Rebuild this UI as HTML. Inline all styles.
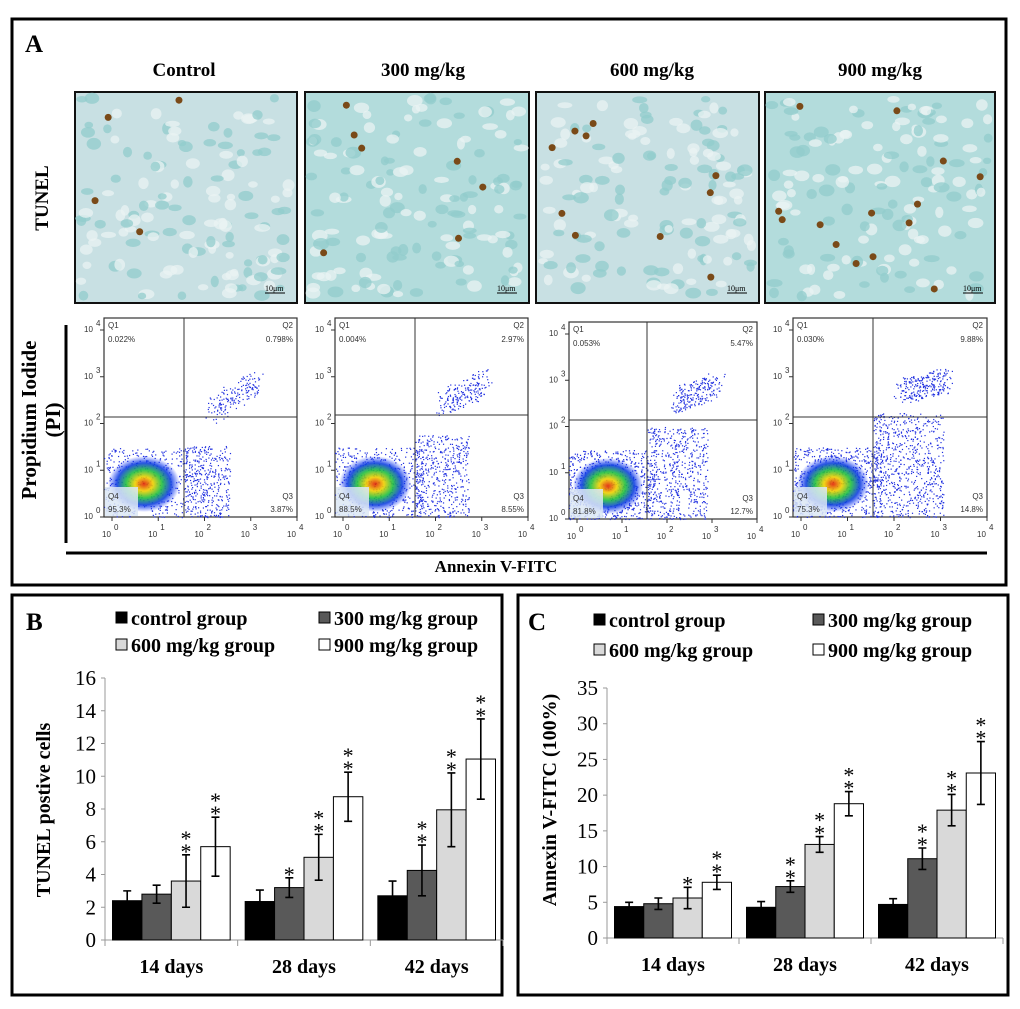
<!DOCTYPE html>
<html><head><meta charset="utf-8"><style>
body{margin:0;background:#fff;width:1020px;height:1009px;overflow:hidden;font-family:"Liberation Serif",serif}
svg{position:absolute;left:0;top:0}
</style></head><body>
<svg id="s" width="1020" height="1009" font-family="Liberation Serif, serif">
<rect x="12" y="19" width="994" height="566" fill="none" stroke="#000" stroke-width="3"/>
<text x="25" y="52" font-size="25" font-weight="bold">A</text>
<text x="184" y="76" font-size="19" font-weight="bold" text-anchor="middle">Control</text>
<text x="423" y="76" font-size="19" font-weight="bold" text-anchor="middle">300 mg/kg</text>
<text x="652" y="76" font-size="19" font-weight="bold" text-anchor="middle">600 mg/kg</text>
<text x="880" y="76" font-size="19" font-weight="bold" text-anchor="middle">900 mg/kg</text>
<text transform="translate(48,198) rotate(-90)" font-size="19" font-weight="bold" text-anchor="middle">TUNEL</text>
<text transform="translate(36,420) rotate(-90)" font-size="21" font-weight="bold" text-anchor="middle">Propidium Iodide</text>
<text transform="translate(60,420) rotate(-90)" font-size="21" font-weight="bold" text-anchor="middle">(PI)</text>
<line x1="66" y1="325" x2="66" y2="543" stroke="#000" stroke-width="3"/>
<line x1="66" y1="553" x2="987" y2="553" stroke="#000" stroke-width="3"/>
<text x="496" y="572" font-size="17" font-weight="bold" text-anchor="middle">Annexin V-FITC</text>
<g id="tissue"></g><g id="flow"></g>
<rect x="12" y="595" width="490" height="400" fill="none" stroke="#000" stroke-width="3"/>
<rect x="518" y="595" width="490" height="400" fill="none" stroke="#000" stroke-width="3"/>
<text x="26" y="630" font-size="25" font-weight="bold">B</text>
<text x="528" y="630" font-size="25" font-weight="bold">C</text>
<g id="chartB"></g><g id="chartC"></g>
</svg>
<script>
const NS="http://www.w3.org/2000/svg";
function mk(p,t,a){const e=document.createElementNS(NS,t);for(const k in a)e.setAttribute(k,a[k]);p.appendChild(e);return e;}
// ---- data ----
const categories=["14 days","28 days","42 days"];
const groups=["control group","300 mg/kg group","600 mg/kg group","900 mg/kg group"];
const tunelControl=[2.4,2.35,2.7], tunelControlErr=[0.6,0.7,0.9];
const tunel300=[2.8,3.2,4.25], tunel300Err=[0.55,0.6,1.55];
const tunel600=[3.6,5.05,7.95], tunel600Err=[1.6,1.4,2.25];
const tunel900=[5.7,8.75,11.05], tunel900Err=[1.8,1.5,2.45];
const tunelStars=[["","","**","**"],["","*","**","**"],["","**","**","**"]];
const tunelTicks=[0,2,4,6,8,10,12,14,16];
const annexControl=[4.4,4.3,4.7], annexControlErr=[0.6,0.8,0.8];
const annex300=[4.8,7.2,11.1], annex300Err=[0.8,0.8,1.5];
const annex600=[5.6,13.1,17.9], annex600Err=[1.5,1.1,2.2];
const annex900=[7.8,18.8,23.1], annex900Err=[1.0,1.7,4.4];
const annexStars=[["","","*","**"],["","**","**","**"],["","**","**","**"]];
const annexTicks=[0,5,10,15,20,25,30,35];
const fills=["#000","#595959","#d9d9d9","#fff"];

function barChart(g,cfg){
  const {x0,x1,y0,y1,max,series,errs,stars,ticks,title,tx,ty,legend}=cfg;
  const Y=v=>y0-(v/max)*(y0-y1);
  const cw=(x1-x0)/categories.length, pad=7.5, bw=(cw-2*pad)/4;
  const ax=mk(g,'line',{x1:x0,y1:y1,x2:x0,y2:y0,stroke:'#999'});
  
  const bx=mk(g,'line',{x1:x0,y1:y0,x2:x1,y2:y0,stroke:'#999'});
  
  ticks.forEach(t=>{
    mk(g,'line',{x1:x0-4,x2:x0,y1:Y(t),y2:Y(t),stroke:'#999'});
    const l=mk(g,'text',{x:x0-9,y:Y(t)+7,'font-size':21,'text-anchor':'end'});l.textContent=t;
    
  });
  for(let c=0;c<=categories.length;c++) mk(g,'line',{x1:x0+c*cw,x2:x0+c*cw,y1:y0,y2:y0+6,stroke:'#999'});
  categories.forEach((cat,c)=>{
    const l=mk(g,'text',{x:x0+c*cw+cw/2,y:y0+33,'font-size':20,'font-weight':'bold','text-anchor':'middle'});l.textContent=cat;
    
    series.forEach((s,i)=>{
      const bxp=x0+c*cw+pad+i*bw, v=s[c], e=errs[i][c];
      const r=mk(g,'rect',{x:bxp,y:Y(v),width:bw,height:y0-Y(v),fill:fills[i],stroke:'#000','stroke-width':1});
      
      const cx=bxp+bw/2;
      const eb=mk(g,'path',{d:`M${cx},${Y(v+e)}V${Y(v-e)}M${cx-4},${Y(v+e)}H${cx+4}M${cx-4},${Y(v-e)}H${cx+4}`,stroke:'#000','stroke-width':1.6,fill:'none'});
      
      const st=stars[c][i];
      for(let k=0;k<st.length;k++){
        const t=mk(g,'text',{x:cx,y:Y(v+e)-6-(st.length-1-k)*13+10,'font-size':22,'text-anchor':'middle'});t.textContent='*';
        
      }
    });
  });
  const tl=mk(g,'text',{transform:`translate(${tx},${ty}) rotate(-90)`,'font-size':20,'font-weight':'bold','text-anchor':'middle'});tl.textContent=title;
  
  groups.forEach((n,i)=>{
    const lx=legend[i%2], ly=legend[2+Math.floor(i/2)];
    const sq=mk(g,'rect',{x:lx,y:ly-13,width:11,height:11,fill:fills[i],stroke:'#000'});
    
    const t=mk(g,'text',{x:lx+15,y:ly,'font-size':20,'font-weight':'bold'});t.textContent=n;
    
  });
}
barChart(document.getElementById('chartB'),{x0:105,x1:503,y0:940,y1:678,max:16,
  series:[tunelControl,tunel300,tunel600,tunel900],errs:[tunelControlErr,tunel300Err,tunel600Err,tunel900Err],
  stars:tunelStars,ticks:tunelTicks,title:'TUNEL postive cells',tx:50,ty:810,legend:[116,319,625,652]});
barChart(document.getElementById('chartC'),{x0:607,x1:1003,y0:938,y1:688,max:35,
  series:[annexControl,annex300,annex600,annex900],errs:[annexControlErr,annex300Err,annex600Err,annex900Err],
  stars:annexStars,ticks:annexTicks,title:'Annexin V-FITC (100%)',tx:556,ty:800,legend:[594,813,627,657]});

// ---- decorative tissue images & flow plots ----
let seed=7;function rnd(){seed=(seed*16807)%2147483647;return seed/2147483647;}
const tg=document.getElementById('tissue');
const tiss=[[75,92,222,211,4],[305,92,224,211,7],[536,92,223,211,10],[765,92,230,211,14]];
tiss.forEach((t,j)=>{
  const [x,y,w,h,nd]=t;
  const r=mk(tg,'rect',{x:x,y:y,width:w,height:h,fill:j==1||j==3?'#b3dcdc':'#c8e0e3',stroke:'#111','stroke-width':2});
  
  for(let k=0;k<140;k++) mk(tg,'ellipse',{cx:x+6+rnd()*(w-12),cy:y+6+rnd()*(h-12),rx:4+rnd()*4,ry:3+rnd()*3,fill:rnd()<0.5?'#92cccc':'#eaf3f3',opacity:0.75});
  for(let k=0;k<nd;k++) mk(tg,'circle',{cx:x+8+rnd()*(w-16),cy:y+8+rnd()*(h-16),r:3.5,fill:'#7a4a18'});
  const sb=mk(tg,'text',{x:x+w-32,y:y+h-12,'font-size':8});sb.textContent='10μm';
  mk(tg,'line',{x1:x+w-32,x2:x+w-12,y1:y+h-10,y2:y+h-10,stroke:'#000'});
});
const fg=document.getElementById('flow');
const flows=[[104,318,193,199,80,99,['0.022%','0.798%','3.87%','95.3%'],0.3],[335,318,193,199,80,97,['0.004%','2.97%','8.55%','88.5%'],0.5],
 [569,322,188,197,78,98,['0.053%','5.47%','12.7%','81.8%'],0.7],[793,318,194,199,80,99,['0.030%','9.88%','14.8%','75.3%'],0.9]];
const defs=mk(fg,'defs',{});
const rg=mk(defs,'radialGradient',{id:'heat'});
[['0','#e02000'],['0.25','#f0d000'],['0.5','#20c040'],['0.75','#1040e0'],['1','#1030ff']].forEach(s=>mk(rg,'stop',{offset:s[0],'stop-color':s[1],'stop-opacity':s[0]=='1'?0:1}));
flows.forEach((f,j)=>{
  const [x,y,w,h,qx,qy,lab,lv]=f;
  const r=mk(fg,'rect',{x:x,y:y,width:w,height:h,fill:'#fff',stroke:'#333','stroke-width':1.2});
  
  for(let k=0;k<600+lv*1200;k++){
    let px,py;
    const q=rnd();
    if(q<0.45){px=x+rnd()*qx*1.1;py=y+h-rnd()*h*0.35;}
    else if(q<0.85){px=x+qx+rnd()*w*0.35*(0.5+lv*0.6);py=y+h-rnd()*h*0.55*(0.5+lv*0.5);}
    else{const u=rnd();px=x+qx+20+u*45+rnd()*15;py=y+h*0.25+(1-u)*35*(1.2-lv)+rnd()*25;}
    if(px<x+w-2&&py>y+2&&py<y+h) mk(fg,'rect',{x:px,y:py,width:1.2,height:1.2,fill:'#2030e0'});
  }
  mk(fg,'ellipse',{cx:x+qx*0.5,cy:y+h-33,rx:qx*0.45,ry:28,fill:'url(#heat)',opacity:0.9});
  mk(fg,'rect',{x:x+1,y:y+h-30,width:33,height:29,fill:'#dce8f5',opacity:0.85});
  mk(fg,'line',{x1:x+qx,x2:x+qx,y1:y,y2:y+h,stroke:'#333'});
  mk(fg,'line',{x1:x,x2:x+w,y1:y+qy,y2:y+qy,stroke:'#333'});
  const L=(tx,ty,s,a)=>{const t=mk(fg,'text',{x:tx,y:ty,'font-size':8,'font-family':'Liberation Sans, sans-serif',fill:'#333','text-anchor':a||'start'});t.textContent=s;};
  L(x+4,y+10,'Q1');L(x+4,y+24,lab[0]);L(x+w-4,y+10,'Q2','end');L(x+w-4,y+24,lab[1],'end');
  L(x+w-4,y+h-18,'Q3','end');L(x+w-4,y+h-5,lab[2],'end');L(x+4,y+h-18,'Q4');L(x+4,y+h-5,lab[3]);
  for(let d=0;d<5;d++){
    const yy=y+h-d*(h-12)/4, xx=x+8+d*(w-8)/4;
    L(x-20,yy+2,'10');L(x-8,yy-4,String(d));
    L(xx-10,y+h+20,'10');L(xx+2,y+h+13,String(d));
    mk(fg,'line',{x1:x-4,x2:x,y1:yy,y2:yy,stroke:'#333'});
    mk(fg,'line',{x1:xx,x2:xx,y1:y+h,y2:y+h+4,stroke:'#333'});
  }
});
</script>
</body></html>
